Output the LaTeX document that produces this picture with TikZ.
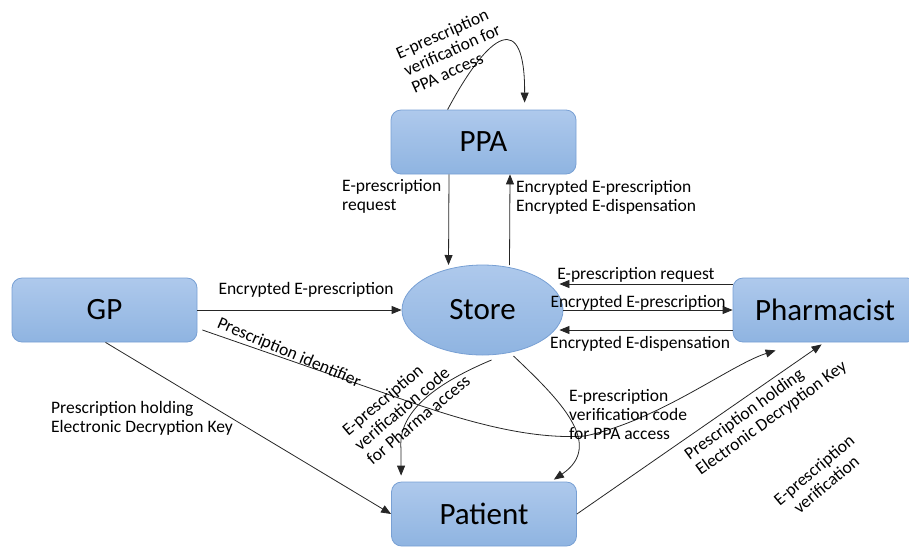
\documentclass[tikz,border=0pt]{standalone}
\usepackage{fontspec}
\setmainfont{Carlito}
\usetikzlibrary{arrows.meta,shapes.geometric}
\definecolor{boxtop}{RGB}{174,201,236}
\definecolor{boxbot}{RGB}{143,180,225}
\definecolor{boxline}{RGB}{120,160,212}
\tikzset{
  box/.style={draw=boxline, line width=0.8pt, top color=boxtop, bottom color=boxbot,
    rounded corners=10pt, minimum width=185pt, minimum height=64pt, inner sep=0pt,
    font=\fontsize{31}{36}\selectfont},
  storenode/.style={ellipse, draw=boxline, line width=0.8pt, top color=boxtop, bottom color=boxbot,
    minimum width=161pt, minimum height=90pt, inner sep=0pt,
    font=\fontsize{31}{36}\selectfont},
  arr/.style={draw=black!85, line width=0.8pt, -{Triangle[length=10pt,width=8pt]}},
  lbl/.style={inner sep=0pt, font=\fontsize{17.5}{19}\selectfont, text=black}
}
\begin{document}
\begin{tikzpicture}[x=1pt,y=-1pt]
\useasboundingbox (0,0) rectangle (909,547);
% nodes
\node[box] (ppa) at (483.5,142) {PPA};
\node[box] (gp) at (104.5,310) {GP};
\node[box] (patient) at (484,514) {Patient};
\node[box, minimum width=184pt] (pharm) at (825,310) {Pharmacist};
\node[storenode] (store) at (482.5,310) {Store};

% self loop on PPA
\draw[arr] ([shift={(57,0)}]ppa.north west) .. controls (490,30) and (525,10) .. ([shift={(134,-7)}]ppa.north west);
\node[lbl, rotate=24, align=left] (l1) at (452,50) {E-prescription\\verification for\\PPA access};

% PPA <-> Store
\draw[arr] (ppa.south -| 449,0) -- ([shift={(-34,-45)}]store.center);
\node[lbl, anchor=west, align=left] (l2) at (342,196) {E-prescription\\request};
\draw[arr] ([shift={(27,-45)}]store.center) -- (ppa.south -| 510,0);
\node[lbl, anchor=west, align=left] (l3) at (516,197) {Encrypted E-prescription\\Encrypted E-dispensation};

% Store <-> Pharmacist
\draw[arr] ([shift={(0,-26)}]pharm.west) -- ([shift={(-4,-26)}]store.east);
\node[lbl] (l4) at (636,275) {E-prescription request};
\draw[arr] (store.east) -- (store.east -| pharm.west);
\node[lbl] (l5) at (638,303) {Encrypted E-prescription};
\draw[arr] ([shift={(0,20)}]pharm.west) -- ([shift={(-4,20)}]store.east);
\node[lbl] (l6) at (640,344) {Encrypted E-dispensation};

% GP -> Store
\draw[arr] (gp.east) -- (gp.east -| store.west);
\node[lbl] (l7) at (306,290) {Encrypted E-prescription};

% GP -> Pharmacist (prescription identifier)
\draw[arr] ([shift={(5,20)}]gp.east) -- (410,402) .. controls (465,421) and (530,440) .. (585,436)
  .. controls (660,420) and (730,365) .. ([shift={(43,8)}]pharm.south west);
\node[lbl, rotate=-23] (l8) at (289,353) {Prescription identifier};

% GP -> Patient
\draw[arr] ([xshift=1pt]gp.south) -- (patient.west);
\node[lbl, anchor=west, align=left] (l9) at (51,418) {Prescription holding\\Electronic Decryption Key};

% Store -> Patient (pharma access)
\draw[arr] ([shift={(9,50)}]store.center) .. controls (420,390) and (398,420) .. (401,450) -- ([shift={(10,-6)}]patient.north west);
\node[lbl, rotate=40, align=left] (l10) at (406,405) {E-prescription\\verification code\\for Pharma access};

% Store -> Patient (PPA access)
\draw[arr] ([shift={(31,46)}]store.center) .. controls (560,400) and (605,445) .. ([shift={(-23,-2)}]patient.north east);
\node[lbl, anchor=west, align=left] (l11) at (569,415) {E-prescription\\verification code\\for PPA access};

% Patient -> Pharmacist
\draw[arr] (patient.east) -- ([shift={(89,2)}]pharm.south west);
\node[lbl, rotate=36, align=left] (l12) at (766,411) {Prescription holding\\Electronic Decryption Key};

% free label
\node[lbl, rotate=40, align=center] (l13) at (820,477) {E-prescription\\verification};
\end{tikzpicture}
\end{document}
